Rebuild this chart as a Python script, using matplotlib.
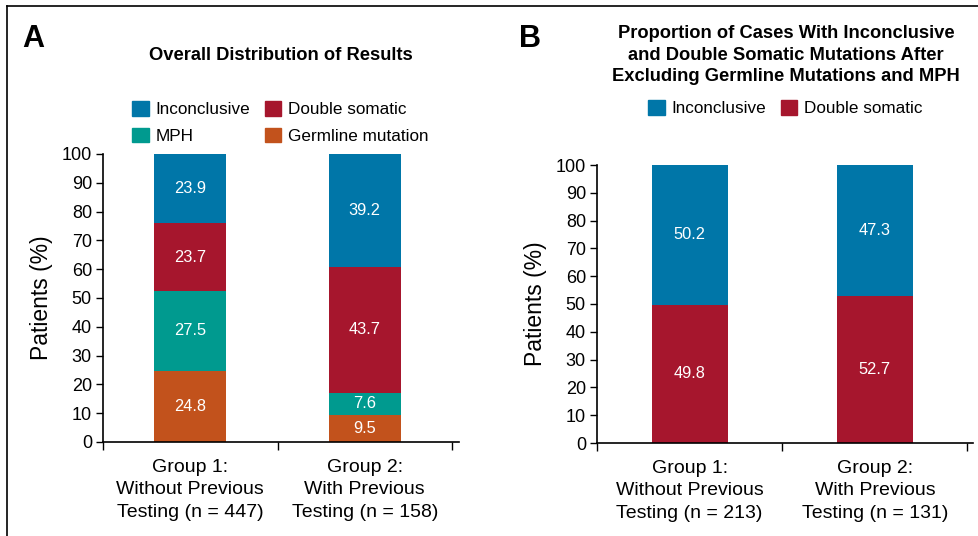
import matplotlib.pyplot as plt
from matplotlib.lines import Line2D
from matplotlib.patches import Patch
import numpy as np

plt.rcParams['font.family'] = ['Liberation Sans', 'DejaVu Sans']

# panel A
groups_a = ['Group 1:\nWithout Previous\nTesting (n = 447)', 'Group 2:\nWith Previous\nTesting (n = 158)']
germline_a = [24.8, 9.5]
mph_a = [27.5, 7.6]
double_a = [23.7, 43.7]
inconcl_a = [23.9, 39.2]

# panel B
groups_b = ['Group 1:\nWithout Previous\nTesting (n = 213)', 'Group 2:\nWith Previous\nTesting (n = 131)']
double_b = [49.8, 52.7]
inconcl_b = [50.2, 47.3]

c_blue = '#0076A8'
c_red = '#A6162D'
c_teal = '#009A8F'
c_orange = '#C2521C'

fig = plt.figure(figsize=(9.79, 5.36), dpi=100)

def style_axis(ax, labels, xmax):
    ax.set_ylim(0, 100)
    ax.set_xlim(-0.5, xmax)
    ax.spines['top'].set_visible(False)
    ax.spines['right'].set_visible(False)
    ax.spines['left'].set_linewidth(1.2)
    ax.spines['bottom'].set_linewidth(1.2)
    ax.set_yticks(np.arange(0, 101, 10))
    ax.tick_params(axis='y', length=5, width=1, labelsize=13, pad=3)
    ax.set_xticks([-0.5, 0.5, 1.5])
    ax.set_xticklabels([])
    ax.tick_params(axis='x', length=6, width=1)
    ax.set_xticks([0, 1], minor=True)
    ax.set_xticklabels(labels, minor=True, fontsize=14, linespacing=1.42)
    ax.tick_params(axis='x', which='minor', length=0, pad=12)
    ax.set_ylabel('Patients (%)', fontsize=16.5, labelpad=6)

def label_bars(ax, bars):
    for b in bars:
        ax.bar_label(b, labels=['%.1f' % v for v in b.datavalues],
                     label_type='center', color='white', fontsize=11.8)

# ---------------- A ----------------
axA = fig.add_axes([103/979, 1-442/536, 356/979, 288/536])
x = np.arange(2)
w = 0.41
b1 = axA.bar(x, germline_a, w, color=c_orange)
b2 = axA.bar(x, mph_a, w, bottom=germline_a, color=c_teal)
bot = np.array(germline_a) + np.array(mph_a)
b3 = axA.bar(x, double_a, w, bottom=bot, color=c_red)
bot = bot + np.array(double_a)
b4 = axA.bar(x, inconcl_a, w, bottom=bot, color=c_blue)
label_bars(axA, [b1, b2, b3, b4])
style_axis(axA, groups_a, 1.54)

handles = [Patch(color=c_blue), Patch(color=c_teal), Patch(color=c_red), Patch(color=c_orange)]
names = ['Inconclusive', 'MPH', 'Double somatic', 'Germline mutation']
fig.legend(handles, names, ncol=2, loc='center left', bbox_to_anchor=(117/979, 1-122.5/536),
           frameon=False, fontsize=12.3, handlelength=0.95, handleheight=0.95,
           handletextpad=0.4, columnspacing=0.85, labelspacing=0.6)

fig.text(22/979, 1-39/536, 'A', fontsize=22, fontweight='bold', va='center')
fig.text(281/979, 1-56/536, 'Overall Distribution of Results', fontsize=13.2, fontweight='bold',
         ha='center', va='center')

# ---------------- B ----------------
axB = fig.add_axes([597/979, 1-443/536, 376/979, 278/536])
c1 = axB.bar(x, double_b, w, color=c_red)
c2 = axB.bar(x, inconcl_b, w, bottom=double_b, color=c_blue)
label_bars(axB, [c1, c2])
style_axis(axB, groups_b, 1.53)

fig.legend([Patch(color=c_blue), Patch(color=c_red)], ['Inconclusive', 'Double somatic'], ncol=2,
           loc='center left', bbox_to_anchor=(633/979, 1-108/536), frameon=False, fontsize=12.3,
           handlelength=0.95, handleheight=0.95, handletextpad=0.4, columnspacing=0.85)

fig.text(519/979, 1-39/536, 'B', fontsize=22, fontweight='bold', va='center')
fig.text(786/979, 1-55/536, 'Proportion of Cases With Inconclusive\nand Double Somatic Mutations After\nExcluding Germline Mutations and MPH',
         fontsize=13.2, fontweight='bold', ha='center', va='center', linespacing=1.38)

# frame lines (top and left)
fig.add_artist(Line2D([7/979, 1], [1-6/536, 1-6/536], color='black', lw=1.2, transform=fig.transFigure))
fig.add_artist(Line2D([7/979, 7/979], [0, 1-6/536], color='black', lw=1.2, transform=fig.transFigure))

plt.savefig('out.png', dpi=100)
